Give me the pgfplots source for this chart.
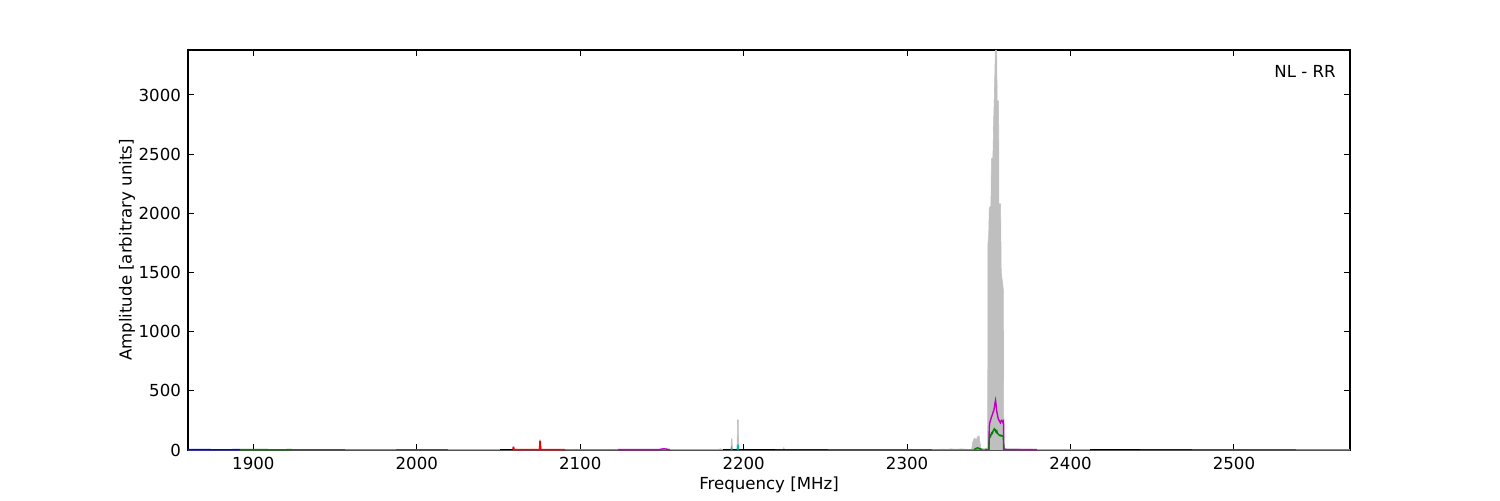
\documentclass[border=0pt]{standalone}
\usepackage{pgfplots}
\pgfplotsset{compat=1.18}
\usepackage{fontspec}
\setmainfont{DejaVu Sans}
\definecolor{mb}{rgb}{0,0,1}
\definecolor{mg}{rgb}{0,0.5,0}
\definecolor{mr}{rgb}{1,0,0}
\definecolor{mc}{rgb}{0,0.75,0.75}
\definecolor{mm}{rgb}{0.75,0,0.75}
\definecolor{my}{rgb}{0.75,0.75,0}
\definecolor{mk}{rgb}{0,0,0}
\definecolor{mgray}{rgb}{0.75,0.75,0.75}
\begin{document}
\begin{tikzpicture}
\begin{axis}[
  name=ax,
  at={(0pt,0pt)}, anchor=south west,
  scale only axis,
  width=581pt, height=200pt,
  xmin=1860, xmax=2571,
  ymin=0, ymax=3380,
  xtick={1900,2000,...,2500},
  ytick={0,500,...,3000},
  tick align=inside,
  major tick length=2.8pt,
  minor tick num=0,
  axis line style={line width=0.6pt},
  every tick/.style={black, line width=0.5pt},
  font=\fontsize{8.3}{10}\selectfont,
  /pgf/number format/assume math mode=true,
  /pgf/number format/1000 sep={},
  scaled y ticks=false,
  xlabel={Frequency [MHz]},
  ylabel={Amplitude [arbitrary units]},
  xlabel style={yshift=3pt},
  ylabel style={yshift=-5pt},
  clip=true,
  every axis plot/.append style={line width=0.7pt},
]
% gray max-hold envelope
\addplot[fill=mgray, draw=mgray, line width=0.3pt] coordinates {
(1860,3) (2058.5,3) (2058.8,25) (2059.2,25) (2059.4,3)
(2075.0,3) (2075.2,85) (2075.7,85) (2075.9,3)
(2149,3) (2150.5,8) (2152,11) (2153.5,9) (2154.5,3)
(2185.3,3) (2185.6,12) (2185.9,3)
(2192.3,3) (2192.5,93) (2192.9,93) (2193.1,3)
(2196.0,3) (2196.2,254) (2196.7,254) (2196.9,3)
(2224.3,3) (2224.6,20) (2224.9,3)
(2318,3) (2321,8) (2324,5) (2327,9) (2330,6) (2333,9) (2336,7) (2338,3)
(2339.5,4) (2340.0,60) (2340.8,90) (2341.5,100) (2342.3,80) (2343.0,110) (2344.0,120) (2344.6,60) (2345.2,12) (2346.5,12) (2347.5,10) (2348.5,15) (2349.3,20)
(2349.5,1750) (2349.9,1800) (2350.3,2050) (2351.3,2060) (2351.6,2460) (2352.5,2470) (2353.0,2800) (2353.4,3000) (2354.0,3380) (2354.8,3380) (2355.1,2950) (2356.0,2950) (2356.2,2080) (2357.2,2080) (2357.6,1500) (2358.5,1400) (2358.9,1350) (2359.1,30)
(2360,10) (2370,8) (2380,5) (2571,3)
} \closedcycle;
% band segments
\addplot[mb] coordinates {(1860,3) (1870,3) (1880,2) (1891.8,3)};
\addplot[mg] coordinates {(1891.8,3) (1905,3) (1915,2) (1923.6,3)};
\addplot[mr] coordinates {(1923.6,3) (1940,3) (1956.1,3)};
\addplot[mc] coordinates {(1956.1,3) (1970,3) (1987.3,3)};
\addplot[mm] coordinates {(1987.3,3) (2000,3) (2019.1,3)};
\addplot[my] coordinates {(2019.1,3) (2035,3) (2050.9,3)};
\addplot[mk] coordinates {(2050.9,3) (2055,3) (2058.9,3)};
\addplot[mr] coordinates {(2058.9,3) (2059.0,22) (2059.3,22) (2059.5,3) (2075.1,3) (2075.3,72) (2075.6,72) (2075.8,3) (2090.7,3)};
\addplot[mc] coordinates {(2090.7,3) (2105,3) (2123.2,3)};
\addplot[mm] coordinates {(2123.2,3) (2148,3) (2149.5,7) (2151,10) (2152.5,8) (2154,4) (2155,3)};
\addplot[my] coordinates {(2155,3) (2170,3) (2187.4,3)};
\addplot[mk] coordinates {(2187.4,3) (2200,3) (2219.2,3)};
\addplot[mb] coordinates {(2219.2,3) (2235,3) (2251.7,3)};
\addplot[mg] coordinates {(2251.7,3) (2265,3) (2283.5,3)};
\addplot[mr] coordinates {(2283.5,3) (2300,3) (2315.3,3)};
\addplot[mc] coordinates {(2315.3,3) (2330,3) (2347.8,3)};
\addplot[mm] coordinates {(2347.8,3) (2349.8,3) (2350.0,5) (2350.3,200) (2350.6,230) (2351.0,250) (2351.4,270) (2351.8,285) (2352.2,300) (2352.6,320) (2353.0,330) (2353.4,360) (2353.8,400) (2354.1,420) (2354.4,390) (2354.8,330) (2355.1,310) (2355.5,280) (2355.9,260) (2356.3,250) (2356.7,240) (2357.1,230) (2357.5,245) (2357.9,250) (2358.3,245) (2358.7,230) (2359.0,240) (2359.2,5) (2365,4) (2379.6,3)};
\addplot[my] coordinates {(2379.6,3) (2395,3) (2412.0,3)};
\addplot[mk] coordinates {(2412.0,3) (2425,3) (2442.6,3)};
\addplot[mb] coordinates {(2442.6,3) (2460,3) (2474.4,3)};
\addplot[mg] coordinates {(2474.4,3) (2490,3) (2506.3,3)};
\addplot[mr] coordinates {(2506.3,3) (2520,3) (2538.0,3)};
\addplot[mc] coordinates {(2538.0,3) (2555,3) (2571,3)};
% cyan spikes
\addplot[mc] coordinates {(2192.4,3) (2192.6,15) (2192.9,3)};
\addplot[mc] coordinates {(2196.1,3) (2196.3,40) (2196.6,40) (2196.8,3)};
% green trace
\addplot[mg] coordinates {(2341,3) (2342,12) (2343,18) (2344,15) (2345,8) (2346,3)};
\addplot[mg] coordinates {(2349.8,3) (2350.0,3) (2350.3,100) (2350.6,125) (2351.0,115) (2351.4,130) (2351.8,145) (2352.2,140) (2352.6,160) (2353.0,170) (2353.4,180) (2353.8,175) (2354.1,160) (2354.5,150) (2354.9,160) (2355.3,140) (2355.7,135) (2356.1,130) (2356.5,125) (2356.9,120) (2357.3,125) (2357.7,120) (2358.1,118) (2358.5,120) (2358.9,115) (2359.1,3)};
\node[anchor=base east, inner sep=0pt] at (rel axis cs:0.988,0.9325) {NL - RR};
\end{axis}
\pgfresetboundingbox
\path (ax.south west) ++(-94pt,-25pt) rectangle ++(750pt,250pt);
\end{tikzpicture}
\end{document}
